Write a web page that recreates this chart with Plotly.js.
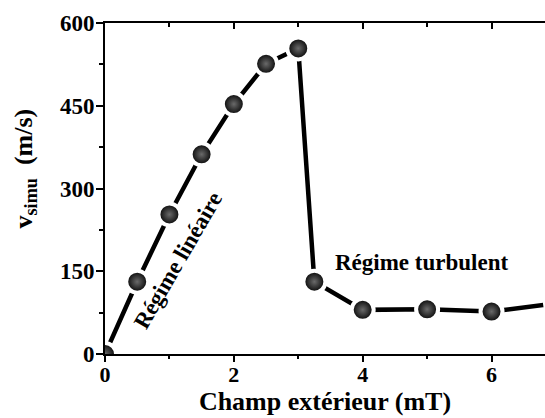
<!DOCTYPE html>
<html>
<head>
<meta charset="utf-8">
<script src="https://cdn.plot.ly/plotly-3.0.1.min.js"></script>
<style>html,body{margin:0;padding:0;background:#fff;}#chart{width:545px;height:418px;}</style>
</head>
<body>
<div id="chart"></div>
<script>
// Data
const fieldMT = [0, 0.5, 1, 1.5, 2, 2.5, 3, 3.25, 4, 5, 6, 7];
const velocity = [0, 131, 253, 362, 453, 526, 554, 131, 80, 81, 77, 92];
const xTickVals = [0, 2, 4, 6];
const yTickVals = [0, 150, 300, 450, 600];
const xTitle = 'Champ extérieur (mT)';
const yTitle = '<b>v</b><sub><b>simu</b></sub><b>  (m/s)</b>';
const labelLinear = 'Régime linéaire';
const labelTurb = 'Régime turbulent';
const labelLinearPos = [1.13, 170];
const labelTurbPos = [4.92, 165];

const F = 'Liberation Serif, Times New Roman, serif';

const traces = [
  {
    x: fieldMT, y: velocity, type: 'scatter', mode: 'lines+markers',
    line: {color: '#000', width: 4.5},
    marker: {size: 22, color: '#000',
      gradient: {type: 'radial', color: '#6a6a6a'},
      line: {color: '#fff', width: 4}},
    cliponaxis: true, hoverinfo: 'skip', showlegend: false
  },
  {
    x: fieldMT, y: velocity, xaxis: 'x2', type: 'scatter', mode: 'markers',
    marker: {opacity: 0}, hoverinfo: 'skip', showlegend: false
  }
];

const layout = {
  width: 545, height: 418,
  margin: {l: 105, r: 0, t: 23, b: 64},
  paper_bgcolor: '#fff', plot_bgcolor: '#fff',
  font: {family: F, color: '#000'},
  showlegend: false,
  xaxis: {
    range: [0, 6.83], tickvals: xTickVals, ticktext: xTickVals.map(v => '<b>' + v + '</b>'),
    ticks: 'outside', ticklen: 6, tickwidth: 2, tickcolor: '#000',
    minor: {dtick: 1, tick0: 0, ticks: 'outside', ticklen: 3, tickwidth: 2, tickcolor: '#000'},
    showline: true, linecolor: '#000', linewidth: 2,
    showgrid: false, zeroline: false,
    tickfont: {family: F, size: 22, color: '#000'},
    ticklabelstandoff: -6,
    title: {text: '<b>' + xTitle + '</b>', font: {family: F, size: 26, color: '#000'}, standoff: 0},
    fixedrange: true
  },
  xaxis2: {
    overlaying: 'x', side: 'top', anchor: 'y', matches: 'x', range: [0, 6.83],
    tickvals: xTickVals, showticklabels: false,
    ticks: 'inside', ticklen: 6, tickwidth: 2, tickcolor: '#000',
    minor: {dtick: 1, tick0: 0, ticks: 'inside', ticklen: 4, tickwidth: 2, tickcolor: '#000'},
    showline: true, linecolor: '#000', linewidth: 2,
    showgrid: false, zeroline: false
  },
  yaxis: {
    range: [0, 600], tickvals: yTickVals, ticktext: yTickVals.map(v => '<b>' + v + '</b>'),
    ticks: 'outside', ticklen: 7, tickwidth: 2, tickcolor: '#000',
    minor: {dtick: 75, tick0: 0, ticks: 'outside', ticklen: 4, tickwidth: 2, tickcolor: '#000'},
    showline: true, linecolor: '#000', linewidth: 2,
    showgrid: false, zeroline: false,
    tickfont: {family: F, size: 23, color: '#000'},
    ticklabelstandoff: -3,
    fixedrange: true
  },
  annotations: [
    {xref: 'paper', yref: 'paper', x: -0.183, y: 0.562, text: yTitle, showarrow: false,
     textangle: -90, font: {family: F, size: 26, color: '#000'}, xanchor: 'center', yanchor: 'middle'},
    {x: labelLinearPos[0], y: labelLinearPos[1], text: '<b>' + labelLinear + '</b>', showarrow: false,
     textangle: -60, font: {family: F, size: 23, color: '#000'}},
    {x: labelTurbPos[0], y: labelTurbPos[1], text: '<b>' + labelTurb + '</b>', showarrow: false,
     font: {family: F, size: 23, color: '#000'}}
  ]
};

Plotly.newPlot('chart', traces, layout, {staticPlot: true, displayModeBar: false});
</script>
</body>
</html>
